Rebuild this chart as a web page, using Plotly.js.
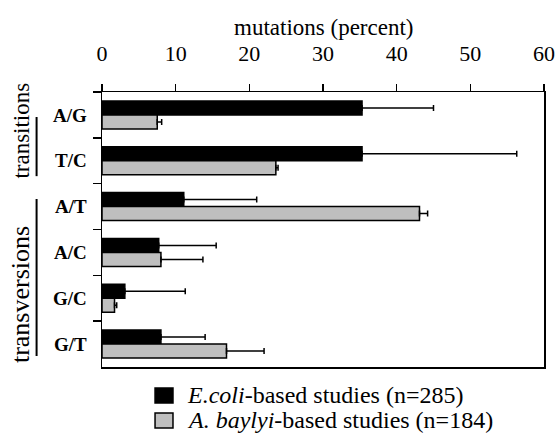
<!DOCTYPE html>
<html>
<head>
<meta charset="utf-8">
<script src="https://cdn.plot.ly/plotly-3.0.1.min.js"></script>
<style>html,body{margin:0;padding:0;background:#fff;}#chart{width:556px;height:434px;}</style>
</head>
<body>
<div id="chart"></div>
<script>
var categories = ['A/G', 'T/C', 'A/T', 'A/C', 'G/C', 'G/T'];
var ecoliValues = [35.3, 35.3, 11.1, 7.7, 3.1, 8.0];
var ecoliErrors = [9.7, 21.0, 9.9, 7.8, 8.2, 6.0];
var baylyiValues = [7.5, 23.6, 43.1, 8.0, 1.7, 16.9];
var baylyiErrors = [0.6, 0.3, 1.1, 5.7, 0.3, 5.1];
var zeros = [0, 0, 0, 0, 0, 0];
var seriesNames = ['<i>E.coli</i>-based studies (n=285)', '<i>A. baylyi</i>-based studies (n=184)'];
var seriesColors = ['#000000', '#bfbfbf'];
var groupLabels = ['transitions', 'transversions'];
var xTitle = 'mutations (percent)';
var xTicks = [0, 10, 20, 30, 40, 50, 60];

var F = '"Times New Roman", "Liberation Serif", Times, serif';

function errSpec(arr) {
  return {type: 'data', symmetric: false, array: arr, arrayminus: zeros,
          color: '#000', thickness: 1.5, width: 3};
}

var traces = [
  {type: 'bar', orientation: 'h', name: seriesNames[0], y: categories, x: ecoliValues,
   marker: {color: seriesColors[0], line: {color: '#000', width: 1.5}}, error_x: errSpec(ecoliErrors)},
  {type: 'bar', orientation: 'h', name: seriesNames[1], y: categories, x: baylyiValues,
   marker: {color: seriesColors[1], line: {color: '#000', width: 1.5}}, error_x: errSpec(baylyiErrors)}
];

// legend drawn as paper-positioned swatches + labels
var legendRows = [-0.1036, -0.1945];
var legendShapes = seriesNames.map(function (n, i) {
  return {type: 'rect', xref: 'paper', yref: 'paper', x0: 0.12, x1: 0.1606,
          y0: legendRows[i] - 0.0273, y1: legendRows[i] + 0.0273,
          fillcolor: seriesColors[i], line: {color: '#000', width: 1.5}};
});
var legendAnns = seriesNames.map(function (n, i) {
  return {text: n, xref: 'paper', yref: 'paper', x: 0.188, y: legendRows[i],
          xanchor: 'left', yanchor: 'middle', showarrow: false,
          font: {family: F, size: 24, color: '#000'}};
});

var layout = {
  width: 556, height: 434,
  margin: {l: 102, r: 12, t: 92, b: 67, autoexpand: false},
  paper_bgcolor: '#fff', plot_bgcolor: '#fff',
  font: {family: F, color: '#000', size: 22},
  barmode: 'group', bargap: 0.39, bargroupgap: 0,
  showlegend: false,
  xaxis: {side: 'top', range: [0, 60], tickvals: xTicks, ticktext: xTicks.map(String),
          ticks: 'outside', ticklen: 7, tickwidth: 1.5, tickcolor: '#000',
          showline: true, linewidth: 1.5, linecolor: '#000', mirror: true,
          showgrid: false, zeroline: false, fixedrange: true, ticklabelstandoff: 14,
          tickfont: {family: F, size: 22}},
  yaxis: {type: 'category', categoryorder: 'array', categoryarray: categories, autorange: 'reversed',
          ticks: 'outside', tickson: 'boundaries', ticklen: 8, tickwidth: 1.5, tickcolor: '#000',
          showline: true, linewidth: 1.5, linecolor: '#000', mirror: true,
          showgrid: false, zeroline: false, ticklabelstandoff: 10,
          tickfont: {family: F, size: 19, weight: 'bold'}},
  annotations: [
    {text: xTitle, xref: 'paper', yref: 'paper', x: 0.5, y: 1.235,
     showarrow: false, font: {family: F, size: 23}, xanchor: 'center', yanchor: 'middle'},
    {text: groupLabels[0], xref: 'paper', yref: 'paper', x: -0.183, y: 0.86, textangle: -90,
     showarrow: false, font: {family: F, size: 23}, xanchor: 'center', yanchor: 'middle'},
    {text: groupLabels[1], xref: 'paper', yref: 'paper', x: -0.183, y: 0.262, textangle: -90,
     showarrow: false, font: {family: F, size: 26}, xanchor: 'center', yanchor: 'middle'}
  ].concat(legendAnns),
  shapes: [
    {type: 'line', xref: 'paper', yref: 'paper', x0: -0.148, x1: -0.148, y0: 0.909, y1: 0.694,
     line: {color: '#000', width: 2}},
    {type: 'line', xref: 'paper', yref: 'paper', x0: -0.148, x1: -0.148, y0: 0.611, y1: 0.04,
     line: {color: '#000', width: 2}}
  ].concat(legendShapes)
};

Plotly.newPlot('chart', traces, layout, {displayModeBar: false, staticPlot: true});
</script>
</body>
</html>
